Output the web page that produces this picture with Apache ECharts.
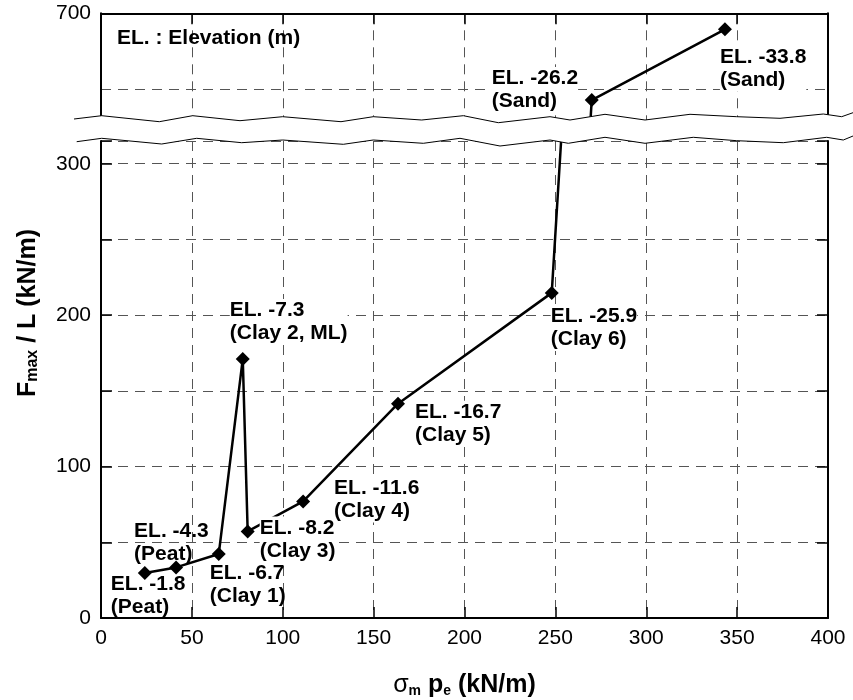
<!DOCTYPE html>
<html>
<head>
<meta charset="utf-8">
<script src="https://cdn.jsdelivr.net/npm/echarts@6/dist/echarts.min.js"></script>
<style>
html, body { margin: 0; padding: 0; background: #fff; }
#chart { width: 853px; height: 700px; }
</style>
</head>
<body>
<div id="chart"></div>
<script>
// data
const elevations = ['-1.8', '-4.3', '-6.7', '-7.3', '-8.2', '-11.6', '-16.7', '-25.9', '-26.2', '-33.8'];
const soils = ['Peat', 'Peat', 'Clay 1', 'Clay 2, ML', 'Clay 3', 'Clay 4', 'Clay 5', 'Clay 6', 'Sand', 'Sand'];
const sigmaPe = [24.1, 41.3, 64.8, 78.0, 80.7, 111.2, 163.4, 248.0, 270.0, 343.3];
const fmaxL = [29.7, 33.4, 42.3, 171.1, 57.2, 77.0, 141.5, 214.7, 642.7, 689.4];
const xTickLabels = [0, 50, 100, 150, 200, 250, 300, 350, 400];
const yTickLabels = [0, 100, 200, 300, 700];

// label placement (pixels from the point to the top-left of the label)
const labelOffsets = [[-34, 0], [-42, -48], [-9, 8], [-13, -60], [12, -15], [31, -25], [17, -3], [-1, 12], [-100, -33], [-5, 16]];
const labelWhite = [false, false, false, true, true, true, true, true, true, true];

// axis break zigzags
const topZig = [[74,119],[101.7,115.7],[159.3,121.7],[192.7,115.7],[240,120.7],[282.7,116.7],[341,121.7],[373.3,116.7],[421.7,120],[463.3,115.7],[498.3,122.7],[550,116.7],[570,120],[605,114.3],[645,120],[690,114.3],[736.7,116.7],[780,118.3],[823.3,114],[841.7,116.7],[853,112.7]];
const botZig = [[76.7,141.7],[101.7,138.3],[161.7,144],[196.7,138.3],[241.7,142.7],[282.7,140],[343.3,144.3],[373.3,140],[423.3,143.3],[460,138.3],[500,146],[550,140],[568.3,143.3],[605,137.3],[645,143.3],[693.3,137.3],[736.7,140.7],[783.3,142.7],[826.7,137.3],[843.3,140],[853,136]];

const FONT = 'Liberation Sans, Arial, sans-serif';
const chart = echarts.init(document.getElementById('chart'));

const dash = { color: '#555', width: 1, type: [10, 7] };
const blackLine = { show: true, onZero: false, lineStyle: { color: '#000', width: 2 } };
const tick = { show: true, inside: true, length: 11, lineStyle: { color: '#000', width: 1.5 } };

function points() {
  return sigmaPe.map(function (x, i) {
    return {
      value: [x, fmaxL[i]],
      label: { offset: labelOffsets[i], backgroundColor: labelWhite[i] ? '#fff' : 'transparent' }
    };
  });
}

function lineSeries(xi, yi) {
  return {
    type: 'line',
    xAxisIndex: xi,
    yAxisIndex: yi,
    data: points(),
    clip: true,
    symbol: 'diamond',
    symbolSize: 14,
    lineStyle: { color: '#000', width: 2.5 },
    itemStyle: { color: '#000' },
    label: {
      show: true,
      position: 'inside',
      align: 'left',
      verticalAlign: 'top',
      color: '#000',
      fontFamily: FONT,
      fontSize: 21,
      fontWeight: 'bold',
      lineHeight: 23,
      formatter: function (p) {
        return 'EL. ' + elevations[p.dataIndex] + '\n(' + soils[p.dataIndex] + ')';
      }
    }
  };
}

function yFmt(v) {
  return yTickLabels.indexOf(Math.round(v)) >= 0 && Math.abs(v - Math.round(v)) < 1e-6 ? String(Math.round(v)) : '';
}

var option = {
  animation: false,
  backgroundColor: '#fff',
  title: {
    text: 'EL. : Elevation (m)',
    left: 117,
    top: 28,
    padding: 0,
    textStyle: { color: '#000', fontFamily: FONT, fontSize: 21, fontWeight: 'bold' }
  },
  grid: [
    { left: 101, right: 25, top: 141, bottom: 82, outerBoundsMode: 'none' },
    { left: 101, right: 25, top: 13.3, height: 113.6, outerBoundsMode: 'none' }
  ],
  xAxis: [
    {
      gridIndex: 0,
      type: 'value',
      min: 0, max: 400, interval: 50,
      axisLine: blackLine,
      axisTick: tick,
      axisLabel: {
        color: '#000', fontFamily: FONT, fontSize: 21, margin: 10,
        formatter: function (v) { return xTickLabels.indexOf(v) >= 0 ? String(v) : ''; }
      },
      splitLine: { show: true, lineStyle: dash },
      name: '{g|σ}{s|m} {b|p}{s|e} {b|(kN/m)}',
      nameLocation: 'middle',
      nameGap: 55,
      nameTextStyle: {
        color: '#000', fontFamily: FONT, fontSize: 25, fontWeight: 'bold',
        rich: {
          g: { fontFamily: FONT, fontSize: 25, fontWeight: 'normal', color: '#000' },
          s: { fontFamily: FONT, fontSize: 14, fontWeight: 'bold', color: '#000', verticalAlign: 'bottom', lineHeight: 10 },
          b: { fontFamily: FONT, fontSize: 25, fontWeight: 'bold', color: '#000' }
        }
      }
    },
    {
      gridIndex: 1,
      type: 'value',
      position: 'top',
      min: 0, max: 400, interval: 50,
      axisLine: blackLine,
      axisTick: tick,
      axisLabel: { show: false },
      splitLine: { show: true, lineStyle: dash }
    }
  ],
  yAxis: [
    {
      gridIndex: 0,
      type: 'value',
      min: 0, max: 315, interval: 50,
      axisLine: blackLine,
      axisTick: tick,
      axisLabel: { color: '#000', fontFamily: FONT, fontSize: 21, margin: 10, formatter: yFmt },
      splitLine: { show: true, lineStyle: dash }
    },
    {
      gridIndex: 0,
      type: 'value',
      position: 'right',
      min: 0, max: 315, interval: 50,
      axisLine: blackLine,
      axisTick: tick,
      axisLabel: { show: false },
      splitLine: { show: false }
    },
    {
      gridIndex: 1,
      type: 'value',
      min: 625, max: 700, interval: 25,
      axisLine: blackLine,
      axisTick: { show: false },
      axisLabel: { color: '#000', fontFamily: FONT, fontSize: 21, margin: 10, formatter: yFmt },
      splitLine: { show: true, lineStyle: { color: ['rgba(0,0,0,0)', '#555'], width: 1, type: [10, 7] } }
    },
    {
      gridIndex: 1,
      type: 'value',
      position: 'right',
      min: 625, max: 700, interval: 25,
      axisLine: blackLine,
      axisTick: { show: false },
      axisLabel: { show: false },
      splitLine: { show: false }
    }
  ],
  graphic: [
    {
      type: 'polygon',
      z: 100,
      silent: true,
      shape: { points: topZig.concat(botZig.slice().reverse()) },
      style: { fill: '#fff', stroke: null }
    },
    { type: 'polyline', z: 101, silent: true, shape: { points: topZig }, style: { stroke: '#000', lineWidth: 1, fill: null } },
    { type: 'polyline', z: 101, silent: true, shape: { points: botZig }, style: { stroke: '#000', lineWidth: 1, fill: null } },
    {
      type: 'text',
      x: 28,
      y: 313,
      rotation: Math.PI / 2,
      z: 102,
      style: {
        text: '{b|F}{s|max}{b| / L (kN/m)}',
        align: 'center',
        verticalAlign: 'middle',
        fill: '#000',
        rich: {
          b: { fontFamily: FONT, fontSize: 25, fontWeight: 'bold', fill: '#000' },
          s: { fontFamily: FONT, fontSize: 16, fontWeight: 'bold', fill: '#000', verticalAlign: 'bottom' }
        }
      }
    }
  ],
  series: [lineSeries(0, 0), lineSeries(1, 2)]
};

chart.setOption(option);
</script>
</body>
</html>
